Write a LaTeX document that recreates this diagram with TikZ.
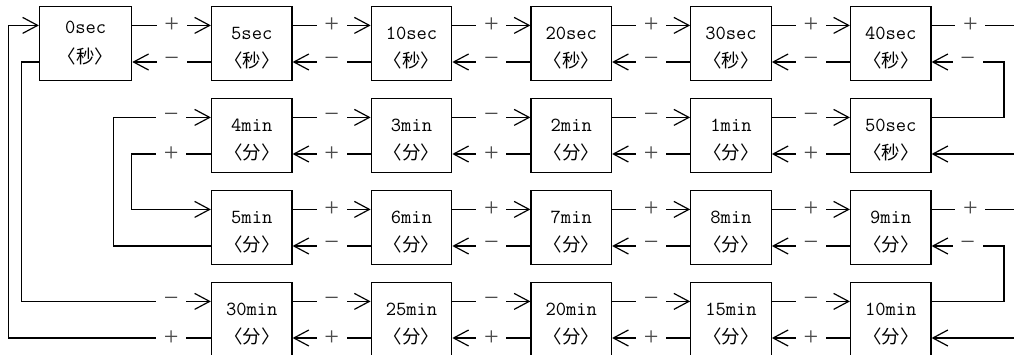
\documentclass[tikz,border=0pt]{standalone}
\usepackage{fontspec}
\newfontfamily\cjkfont{Noto Sans CJK SC}
\newfontfamily\signfont{Liberation Serif}
\usetikzlibrary{arrows.meta}
\newcommand{\mkbox}[4]{%
  \node[box] (#1) at (#2) {};
  \node[lat] (#1-a) at ([yshift=4.5pt]#1.center) {#3};
  \node[han] (#1-b) at ([yshift=-17pt]#1.center) {#4};
}
\newcommand{\pairr}[4]{%
  \draw[arr] ([yshift=18.3pt]#1.east) -- node[lab] (#1-#2-t) {#3} ([yshift=18.3pt]#2.west);
  \draw[arr] ([yshift=-18.3pt]#2.west) -- node[lab] (#1-#2-b) {#4} ([yshift=-18.3pt]#1.east);
}
\begin{document}
\begin{tikzpicture}[x=1pt,y=-1pt,
  box/.style={draw, line width=1.2pt, rectangle, minimum width=80.5pt, minimum height=74pt, inner sep=0pt},
  conn/.style={line width=1.2pt},
  arr/.style={conn, -{Straight Barb[length=15pt,width=16pt]}},
  lab/.style={fill=white, inner sep=0pt, minimum width=30pt, minimum height=8pt, font=\fontsize{26}{26}\selectfont\signfont, text=black!70},
  lat/.style={font=\fontsize{20}{20}\selectfont\ttfamily, anchor=base, inner sep=0pt},
  han/.style={font=\fontsize{18.5}{18.5}\selectfont\cjkfont, inner sep=0pt},
]
\clip (0,0) rectangle (1014,355);
% row 1
\node[box, minimum width=92.2pt] (s0) at (85.6,43.7) {};
\node[lat] (s0-a) at ([yshift=10.4pt]s0.center) {0sec};
\node[han] (s0-b) at ([yshift=-12.8pt]s0.center) {〈秒〉};
\mkbox{s5}{251.75,43.7}{5sec}{〈秒〉}
\mkbox{s10}{411.5,43.7}{10sec}{〈秒〉}
\mkbox{s20}{571.25,43.7}{20sec}{〈秒〉}
\mkbox{s30}{731,43.7}{30sec}{〈秒〉}
\mkbox{s40}{890.75,43.7}{40sec}{〈秒〉}
% row 2
\mkbox{m4}{251.75,135.7}{4min}{〈分〉}
\mkbox{m3}{411.5,135.7}{3min}{〈分〉}
\mkbox{m2}{571.25,135.7}{2min}{〈分〉}
\mkbox{m1}{731,135.7}{1min}{〈分〉}
\mkbox{s50}{890.75,135.7}{50sec}{〈秒〉}
% row 3
\mkbox{m5}{251.75,227.7}{5min}{〈分〉}
\mkbox{m6}{411.5,227.7}{6min}{〈分〉}
\mkbox{m7}{571.25,227.7}{7min}{〈分〉}
\mkbox{m8}{731,227.7}{8min}{〈分〉}
\mkbox{m9}{890.75,227.7}{9min}{〈分〉}
% row 4
\mkbox{m30}{251.75,319.7}{30min}{〈分〉}
\mkbox{m25}{411.5,319.7}{25min}{〈分〉}
\mkbox{m20}{571.25,319.7}{20min}{〈分〉}
\mkbox{m15}{731,319.7}{15min}{〈分〉}
\mkbox{m10}{890.75,319.7}{10min}{〈分〉}
% horizontal pairs
\pairr{s0}{s5}{+}{−}
\pairr{s5}{s10}{+}{−}
\pairr{s10}{s20}{+}{−}
\pairr{s20}{s30}{+}{−}
\pairr{s30}{s40}{+}{−}
\pairr{m4}{m3}{−}{+}
\pairr{m3}{m2}{−}{+}
\pairr{m2}{m1}{−}{+}
\pairr{m1}{s50}{−}{+}
\pairr{m5}{m6}{+}{−}
\pairr{m6}{m7}{+}{−}
\pairr{m7}{m8}{+}{−}
\pairr{m8}{m9}{+}{−}
\pairr{m30}{m25}{−}{+}
\pairr{m25}{m20}{−}{+}
\pairr{m20}{m15}{−}{+}
\pairr{m15}{m10}{−}{+}
% right edge
\coordinate (E1) at (1016,25.4);
\coordinate (E2) at (1016,154.0);
\coordinate (E3) at (1016,209.4);
\coordinate (E4) at (1016,338.0);
\draw[conn] ([yshift=18.3pt]s40.east) -- node[lab,pos=0.46] (s40-out) {+} (E1);
\draw[arr] (E2) -- ([yshift=-18.3pt]s50.east);
\draw[conn] ([yshift=18.3pt]m9.east) -- node[lab,pos=0.46] (m9-out) {+} (E3);
\draw[arr] (E4) -- ([yshift=-18.3pt]m10.east);
% right loops
\draw[arr] ([yshift=18.3pt]s50.east) -- (1004,117.4) -- (1004,62.0) -- node[lab] (s50-s40) {−} ([yshift=-18.3pt]s40.east);
\draw[arr] ([yshift=18.3pt]m10.east) -- (1004,301.4) -- (1004,246.0) -- node[lab] (m10-m9) {−} ([yshift=-18.3pt]m9.east);
% left loops
\draw[arr] ([yshift=-18.3pt]m4.west) -- node[lab] (m4-m5) {+} (131.7,154.0) -- (131.7,209.4) -- ([yshift=18.3pt]m5.west);
\draw[arr] ([yshift=-18.3pt]m5.west) -- (113.3,246.0) -- (113.3,117.4) -- (131.7,117.4) -- node[lab] (m5-m4) {−} ([yshift=18.3pt]m4.west);
\draw[arr] ([yshift=-18.3pt]m30.west) -- node[lab] (m30-s0) {+} (131.7,338.0) -- (8.3,338.0) -- (8.3,25.4) -- ([yshift=18.3pt]s0.west);
\draw[arr] ([yshift=-18.3pt]s0.west) -- (21.7,62.0) -- (21.7,301.4) -- (131.7,301.4) -- node[lab] (s0-m30) {−} ([yshift=18.3pt]m30.west);
\end{tikzpicture}
\end{document}
